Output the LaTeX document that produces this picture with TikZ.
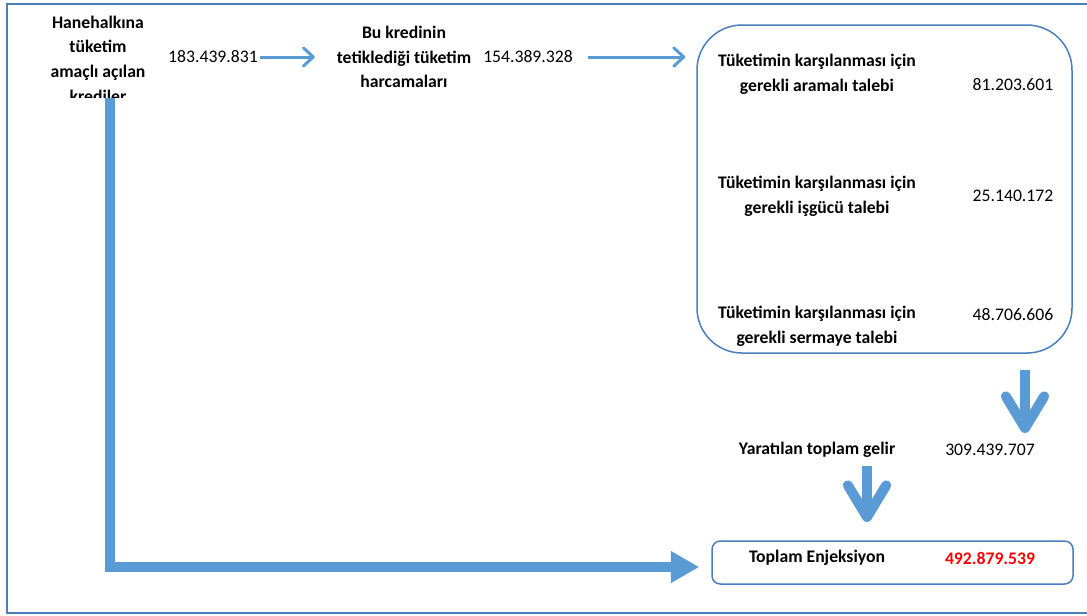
\documentclass[tikz,border=0pt]{standalone}
\usepackage{fontspec}
\setmainfont{Carlito}
\usetikzlibrary{arrows.meta}
\usetikzlibrary{positioning}
\definecolor{okmavi}{RGB}{91,155,213}
\definecolor{kenar}{RGB}{74,126,187}
\definecolor{kirmizi}{RGB}{255,0,0}
\tikzset{yazi/.style = {align = center, inner sep = 1pt,
                        font = \fontsize{10.6}{14.8}\selectfont}}
\tikzset{kalinyazi/.style = {yazi, font = \fontsize{10.6}{14.8}\selectfont\bfseries}}
\tikzset{kutu/.style = {draw = kenar, line width = 0.9pt}}
\tikzset{ince/.style = {draw = okmavi, line width = 1.8pt,
                        -{Straight Barb[length = 6pt, width = 11pt, round]}}}
\tikzset{kalin/.style = {draw = okmavi, line width = 6pt,
                         -{Straight Barb[length = 19pt, width = 23pt, round]}}}
\tikzset{buyuk/.style = {draw = okmavi, line width = 6pt,
                         -{Triangle[length = 17pt, width = 18pt]}}}

\begin{document}
\begin{tikzpicture}[x = 0.6pt, y = -0.6pt]
  \useasboundingbox (0, 0) rectangle (1087, 615);
  \draw [draw = kenar, line width = 1.2pt] (7, 4) rectangle (1110, 613);

  \begin{scope}
    \clip (0, 0) rectangle (300, 97);
    \node [kalinyazi] (kredi) at (98, 59) {Hanehalkına\\tüketim\\amaçlı açılan\\krediler};
  \end{scope}
  \node [yazi] (miktar1) at (213, 57) {183.439.831};
  \node [kalinyazi] (tuketim) at (404, 57) {Bu kredinin\\tetiklediği tüketim\\harcamaları};
  \node [yazi] (miktar2) at (528, 57) {154.389.328};

  \node [kutu, rounded corners = 27pt, minimum width = 225pt,
         minimum height = 196.8pt] (talep) at (884.5, 189) {};
  \node [kalinyazi] (aramali) at (817, 74) {Tüketimin karşılanması için\\gerekli aramalı talebi};
  \node [yazi] (aramalideger) at (1013, 85) {81.203.601};
  \node [kalinyazi] (isgucu) at (817, 196) {Tüketimin karşılanması için\\gerekli işgücü talebi};
  \node [yazi] (isgucudeger) at (1013, 196) {25.140.172};
  \node [kalinyazi] (sermaye) at (817, 326) {Tüketimin karşılanması için\\gerekli sermaye talebi};
  \node [yazi] (sermayedeger) at (1013, 315) {48.706.606};

  \node [kalinyazi] (gelir) at (817, 450) {Yaratılan toplam gelir};
  \node [yazi] (gelirdeger) at (990, 450) {309.439.707};

  \node [kutu, rounded corners = 5pt, minimum width = 216.6pt,
         minimum height = 25.8pt] (enjeksiyon) at (892.5, 562.5) {};
  \node [kalinyazi] (toplam) at (817, 558) {Toplam Enjeksiyon};
  \node [kalinyazi, text = kirmizi] (toplamdeger) at (990, 558) {492.879.539};

  \coordinate (ok1) at (1025, 433);
  \coordinate (ok2) at (867, 522);
  \coordinate (ok3) at (110, 98);

  \draw [ince, shorten >= 12pt] (miktar1.east) -- (tuketim.west |- miktar1.east);
  \draw [ince, shorten <= 8pt, shorten >= 6.6pt] (miktar2.east) -- (talep.west |- miktar2.east);
  \draw [kalin, shorten <= 10pt] (talep.south -| ok1) -- (ok1);
  \draw [kalin, shorten <= 4pt] (gelir.south -| ok2) -- (ok2);
  \draw [buyuk, shorten >= 7.2pt] (ok3) |- ([yshift = -2.7pt]enjeksiyon.west);
\end{tikzpicture}
\end{document}
